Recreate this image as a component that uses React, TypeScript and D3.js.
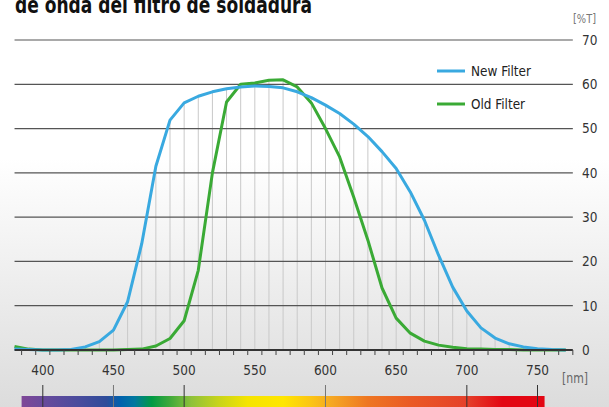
import * as d3 from "d3";

// wavelengths sampled every 10 nm (nm)
const WAVELENGTHS = [
  380, 390, 400, 410, 420, 430, 440, 450, 460, 470, 480, 490, 500, 510, 520, 530, 540, 550, 560, 570,
  580, 590, 600, 610, 620, 630, 640, 650, 660, 670, 680, 690, 700, 710, 720, 730, 740, 750, 760, 770,
];

// transmission (%T)
const NEW_FILTER = [
  0.2, 0.1, 0, 0, 0.1, 0.7, 1.9, 4.5, 10.9, 24, 41.5, 51.9, 55.8, 57.3, 58.3, 59.0, 59.4, 59.6, 59.5, 59.2,
  58.3, 57.0, 55.3, 53.4, 51.0, 48.2, 44.8, 41.0, 35.7, 29.3, 21.4, 14.2, 8.8, 5.0, 2.7, 1.4, 0.7, 0.3, 0.1, 0,
];
const OLD_FILTER = [
  0.8, 0.2, 0, 0, 0, 0, 0, 0, 0.1, 0.2, 0.9, 2.6, 6.6, 18, 40, 56.0, 60.0, 60.3, 60.9, 61.0,
  59.4, 55.8, 50.0, 43.6, 34.5, 24.8, 14.0, 7.2, 3.8, 2.0, 1.1, 0.6, 0.3, 0.2, 0.1, 0.1, 0, 0, 0, 0,
];

const Y_TICKS = [0, 10, 20, 30, 40, 50, 60, 70];
const X_LABELS = [400, 450, 500, 550, 600, 650, 700, 750];
const AXIS_TICKS = [
  385, 395, 405, 415, 425, 435, 445, 455, 465, 475, 485, 495, 505, 515, 525, 535, 545, 555, 565, 575,
  585, 595, 605, 615, 625, 635, 645, 655, 665, 675, 685, 695, 705, 715, 725, 735, 745, 755, 765, 775,
];
const SPECTRUM_MARKS = [400, 450, 500, 600, 700, 750];
const SPECTRUM_NM = [385, 400, 425, 445, 455, 465, 477, 490, 505, 525, 545, 570, 590, 605, 630, 660, 700, 725, 755];
const SPECTRUM_COLORS = [
  "#7f4797", "#694a9c", "#4a4c9d", "#2e4c9a", "#0062ad", "#00789f", "#009a44", "#3fa93a", "#8fc13a",
  "#c9d41a", "#f5e400", "#ffe600", "#fbc415", "#f5a623", "#ee7622", "#ea5a25", "#e5402a", "#e30613", "#e30613",
];

const W = 609;
const H = 407;
const FONT = "'Liberation Sans Narrow', 'DejaVu Sans Condensed', sans-serif";
const BLUE = "#39a9e0";
const GREEN = "#3aaa35";

export default function App() {
  const x = d3.scaleLinear().domain([400, 750]).range([42.8, 537.5]);
  const y = d3.scaleLinear().domain([0, 70]).range([350, 40]);
  const left = x(380);
  const right = x(775);

  const rows = WAVELENGTHS.map((nm, i) => ({ nm, a: NEW_FILTER[i], b: OLD_FILTER[i] }));
  const lineA = d3
    .line<(typeof rows)[number]>()
    .x((d) => x(d.nm))
    .y((d) => y(d.a));
  const lineB = d3
    .line<(typeof rows)[number]>()
    .x((d) => x(d.nm))
    .y((d) => y(d.b));

  return (
    <svg
      width={W}
      height={H}
      style={{ position: "fixed", left: 0, top: 0, display: "block" }}
      fontFamily={FONT}
    >
      <defs>
        <linearGradient id="bg" x1="0" y1="0" x2="0" y2="1">
          <stop offset="0" stopColor="#ffffff" />
          <stop offset="0.39" stopColor="#ffffff" />
          <stop offset="1" stopColor="#dcdcdc" />
        </linearGradient>
        <linearGradient id="spectrum" gradientUnits="userSpaceOnUse" x1={x(385)} y1="0" x2={x(755)} y2="0">
          {SPECTRUM_NM.map((nm, i) => (
            <stop key={nm} offset={(nm - 385) / (755 - 385)} stopColor={SPECTRUM_COLORS[i]} />
          ))}
        </linearGradient>
      </defs>
      <rect width={W} height={H} fill="url(#bg)" />

      {/* title, clipped at the top of the frame */}
      <text
        x={15}
        y={13}
        fontSize={23}
        fontWeight="bold"
        fill="#111"
        textLength={297}
        lengthAdjust="spacingAndGlyphs"
      >
        de onda del filtro de soldadura
      </text>
      <text x={573} y={23} fontSize={13} fill="#777" textLength={23} lengthAdjust="spacingAndGlyphs">
        [%T]
      </text>

      {/* vertical drop lines, one per sample, up to the higher curve */}
      {rows.map((d) => (
        <line
          key={d.nm}
          x1={x(d.nm)}
          x2={x(d.nm)}
          y1={y(0)}
          y2={y(Math.max(d.a, d.b))}
          stroke="#c9c9c9"
          strokeWidth={1}
        />
      ))}

      {/* horizontal grid + right labels */}
      {Y_TICKS.map((t) => (
        <g key={t}>
          {t > 0 && <line x1={left} x2={right} y1={y(t)} y2={y(t)} stroke="#555" strokeWidth={1.2} />}
          <text x={582} y={y(t)} dy="0.36em" fontSize={13.5} fill="#333">
            {t}
          </text>
        </g>
      ))}

      {/* curves */}
      <path d={lineB(rows) ?? ""} fill="none" stroke={GREEN} strokeWidth={3} strokeLinejoin="round" />
      <path d={lineA(rows) ?? ""} fill="none" stroke={BLUE} strokeWidth={3} strokeLinejoin="round" />

      {/* x axis */}
      <line x1={left} x2={right} y1={y(0)} y2={y(0)} stroke="#333" strokeWidth={2} />
      {AXIS_TICKS.map((t) => (
        <line key={t} x1={x(t)} x2={x(t)} y1={y(0)} y2={y(0) + 5} stroke="#444" strokeWidth={1} />
      ))}
      {X_LABELS.map((t) => (
        <text key={t} x={x(t)} y={370} dy="0.36em" textAnchor="middle" fontSize={13.5} fill="#333">
          {t}
        </text>
      ))}
      <text x={562} y={378} dy="0.36em" fontSize={14} fill="#666" textLength={26} lengthAdjust="spacingAndGlyphs">
        [nm]
      </text>

      {/* visible spectrum bar */}
      <rect x={x(385)} y={396} width={x(755) - x(385)} height={H - 396} fill="url(#spectrum)" />
      {SPECTRUM_MARKS.map((t) => (
        <line
          key={t}
          x1={x(t)}
          x2={x(t)}
          y1={385}
          y2={H}
          stroke={t === 450 || t === 600 ? "#777" : "#333"}
          strokeWidth={1}
        />
      ))}

      {/* legend */}
      <line x1={437} x2={465} y1={71} y2={71} stroke={BLUE} strokeWidth={3} />
      <text x={471} y={71} dy="0.36em" fontSize={14} fill="#222" textLength={60} lengthAdjust="spacingAndGlyphs">
        New Filter
      </text>
      <line x1={437} x2={465} y1={104} y2={104} stroke={GREEN} strokeWidth={3} />
      <text x={471} y={104} dy="0.36em" fontSize={14} fill="#222" textLength={54} lengthAdjust="spacingAndGlyphs">
        Old Filter
      </text>
    </svg>
  );
}
